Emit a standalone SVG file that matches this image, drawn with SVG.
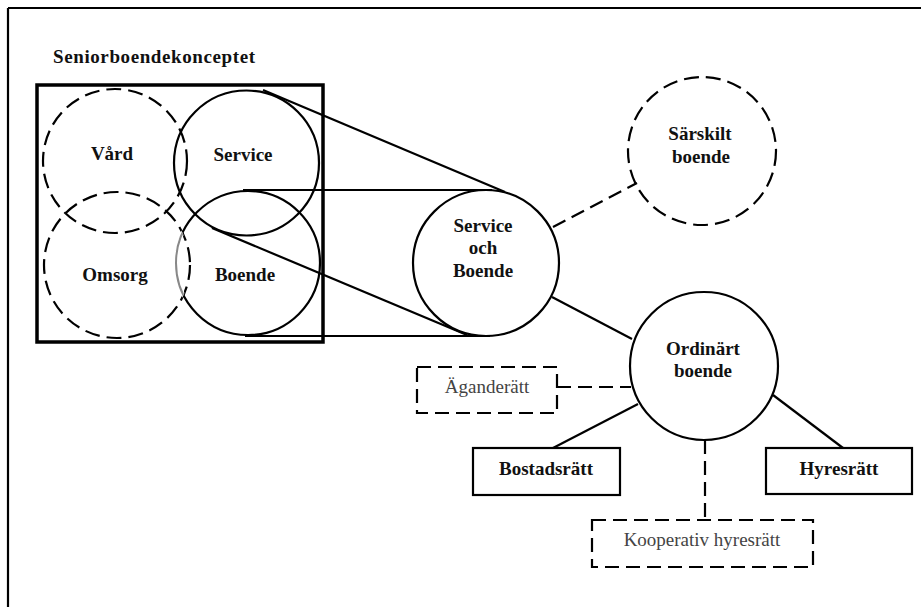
<svg xmlns="http://www.w3.org/2000/svg" width="921" height="607" viewBox="0 0 921 607">
  <style>
    .solid { fill: none; stroke: #000; stroke-width: 2.2; }
    .dash { fill: none; stroke: #000; stroke-width: 2.2; stroke-dasharray: 15 7; }
    .box-dash { fill: none; stroke: #000; stroke-width: 2.2; stroke-dasharray: 14 7; }
    .wire { stroke: #000; stroke-width: 2.2; fill: none; }
    .wire-dash { stroke: #000; stroke-width: 2.2; fill: none; stroke-dasharray: 14 7; }
    .lbl { font-family: "Liberation Serif", "Times New Roman", serif; font-size: 19px; font-weight: bold; fill: #111; text-anchor: middle; }
    .lbl-light { font-family: "Liberation Serif", "Times New Roman", serif; font-size: 19px; fill: #444; text-anchor: middle; }
  </style>
  <defs>
    <clipPath id="inOmsorg">
      <circle cx="117" cy="265" r="73"/>
    </clipPath>
  </defs>

  <rect width="921" height="607" fill="#fff"/>

  <!-- page frame (top and left edges) -->
  <g id="frame">
    <line x1="8" y1="8" x2="921" y2="8" class="wire"/>
    <line x1="8" y1="8" x2="8" y2="607" class="wire"/>
  </g>

  <!-- concept block -->
  <g id="concept">
    <text x="53" y="63" class="lbl" style="text-anchor:start" textLength="202">Seniorboendekonceptet</text>
    <rect x="37" y="85" width="286" height="257" fill="none" stroke="#000" stroke-width="3.5"/>
  </g>

  <g id="vard">
    <circle cx="115" cy="161" r="72" class="dash"/>
    <g clip-path="url(#inOmsorg)">
      <circle cx="115" cy="161" r="72" fill="none" stroke="#fff" stroke-width="4"/>
      <circle cx="115" cy="161" r="72" class="dash" stroke="#888"/>
    </g>
    <text x="112" y="160" class="lbl">Vård</text>
  </g>

  <g id="service">
    <circle cx="246.5" cy="163" r="72.5" class="solid"/>
    <text x="243" y="161" class="lbl">Service</text>
  </g>

  <g id="omsorg">
    <circle cx="117" cy="265" r="73" class="dash"/>
    <text x="115" y="281" class="lbl">Omsorg</text>
  </g>

  <g id="boende">
    <circle cx="248" cy="263" r="72" class="solid"/>
    <g clip-path="url(#inOmsorg)">
      <circle cx="248" cy="263" r="72" fill="none" stroke="#fff" stroke-width="4"/>
      <circle cx="248" cy="263" r="72" fill="none" stroke="#888" stroke-width="2"/>
    </g>
    <text x="245" y="281" class="lbl">Boende</text>
  </g>

  <!-- connectors -->
  <g id="connectors">
    <line x1="263" y1="90" x2="505" y2="192" class="wire"/>
    <line x1="243" y1="190" x2="492" y2="190" class="wire"/>
    <line x1="212" y1="228" x2="467" y2="335" class="wire"/>
    <line x1="245" y1="336" x2="490" y2="336" class="wire"/>
    <line x1="553" y1="227" x2="637" y2="183" class="wire-dash"/>
    <line x1="552" y1="297" x2="632" y2="339" class="wire"/>
    <line x1="557" y1="387" x2="631" y2="387" class="wire-dash"/>
    <line x1="553" y1="448" x2="638" y2="404" class="wire"/>
    <line x1="773" y1="395" x2="843" y2="448" class="wire"/>
    <line x1="705" y1="440" x2="705" y2="520" class="wire-dash"/>
  </g>

  <g id="service-och-boende">
    <circle cx="486" cy="263" r="73" class="solid" fill="#fff"/>
    <text x="483" y="232" class="lbl">Service</text>
    <text x="483" y="254" class="lbl">och</text>
    <text x="483" y="277" class="lbl">Boende</text>
  </g>

  <g id="sarskilt-boende">
    <circle cx="702" cy="151" r="74" class="dash"/>
    <text x="700" y="140" class="lbl">Särskilt</text>
    <text x="701" y="163" class="lbl">boende</text>
  </g>

  <g id="ordinart-boende">
    <circle cx="704" cy="366" r="74" class="solid"/>
    <text x="703" y="355" class="lbl">Ordinärt</text>
    <text x="703" y="377" class="lbl">boende</text>
  </g>

  <g id="aganderatt">
    <rect x="417" y="367" width="140" height="46" class="box-dash"/>
    <text x="487" y="393" class="lbl-light">Äganderätt</text>
  </g>

  <g id="bostadsratt">
    <rect x="473" y="448" width="147" height="47" class="solid"/>
    <text x="546" y="475" class="lbl">Bostadsrätt</text>
  </g>

  <g id="hyresratt">
    <rect x="766" y="448" width="146" height="46" class="solid"/>
    <text x="839" y="475" class="lbl">Hyresrätt</text>
  </g>

  <g id="kooperativ-hyresratt">
    <rect x="592" y="520" width="221" height="47" class="box-dash"/>
    <text x="702" y="546" class="lbl-light">Kooperativ hyresrätt</text>
  </g>
</svg>
